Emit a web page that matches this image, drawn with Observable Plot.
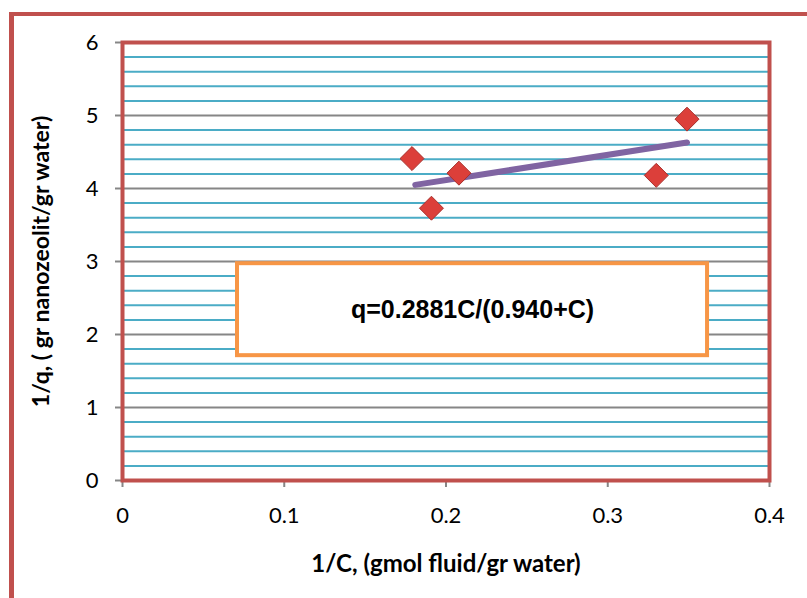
<!DOCTYPE html>
<html>
<head>
<meta charset="utf-8">
<script src="https://cdn.jsdelivr.net/npm/d3@7"></script>
<script src="https://cdn.jsdelivr.net/npm/@observablehq/plot@0.6"></script>
<style>
  html, body { margin: 0; padding: 0; background: #fff; overflow: hidden; }
  #wrap { position: relative; width: 807px; height: 598px; }
  #outer { position: absolute; left: 9px; top: 12px; width: 820px; height: 600px;
           border-left: 5px solid #c0504d; border-top: 4px solid #c0504d; pointer-events: none; }
</style>
</head>
<body>
<div id="wrap"><div id="outer"></div></div>
<script>
// Data
const invC = [0.179, 0.191, 0.208, 0.330, 0.349];
const invQ = [4.41, 3.73, 4.21, 4.18, 4.95];
const fitX = [0.181, 0.349];
const fitY = [4.05, 4.63];
const xTicks = [0, 0.1, 0.2, 0.3, 0.4];
const xTickLabels = ["0", "0.1", "0.2", "0.3", "0.4"];
const yTicks = [0, 1, 2, 3, 4, 5, 6];
const yTickLabels = ["0", "1", "2", "3", "4", "5", "6"];
const yMinor = [0.2, 0.4, 0.6, 0.8, 1.2, 1.4, 1.6, 1.8, 2.2, 2.4, 2.6, 2.8,
                3.2, 3.4, 3.6, 3.8, 4.2, 4.4, 4.6, 4.8, 5.2, 5.4, 5.6, 5.8];
const boxX = [0.0711, 0.3617];
const boxY = [1.71, 2.97];
const equation = "q=0.2881C/(0.940+C)";
const xTitle = "1/C, (gmol fluid/gr water)";
const yTitle = "1/q, ( gr nanozeolit/gr water)";

const points = invC.map((c, i) => ({x: c, y: invQ[i]}));
const fit = fitX.map((x, i) => ({x, y: fitY[i]}));
const box = [{x1: boxX[0], x2: boxX[1], y1: boxY[0], y2: boxY[1], label: equation}];

const chart = Plot.plot({
  width: 807,
  height: 598,
  marginLeft: 122,
  marginRight: 38,
  marginTop: 42,
  marginBottom: 118,
  style: {fontFamily: "Lato, 'Liberation Sans', sans-serif", background: "transparent"},
  x: {domain: [0, 0.4]},
  y: {domain: [0, 6]},
  marks: [
    Plot.ruleY(yMinor, {stroke: "#4bacc6", strokeWidth: 2}),
    Plot.ruleY(yTicks, {stroke: "#868686", strokeWidth: 2}),
    Plot.axisY({ticks: yTicks, tickFormat: (d, i) => yTickLabels[i], tickSize: 7, tickPadding: 17,
                stroke: "#868686", strokeWidth: 2, fontSize: 22, fill: "#000", label: null}),
    Plot.axisX({ticks: xTicks, tickFormat: (d, i) => xTickLabels[i], tickSize: 7, tickPadding: 20,
                stroke: "#868686", strokeWidth: 2, fontSize: 22, fill: "#000", label: null}),
    Plot.frame({stroke: "#c0504d", strokeWidth: 4}),
    Plot.rect(box, {x1: "x1", x2: "x2", y1: "y1", y2: "y2", fill: "white", stroke: "#f79646", strokeWidth: 4}),
    Plot.text(box, {x: d => (d.x1 + d.x2) / 2, y: d => (d.y1 + d.y2) / 2, text: "label",
                    fontSize: 25, fontWeight: "bold", fontFamily: "'Liberation Sans', Arial, sans-serif", fill: "#000"}),
    Plot.line(fit, {x: "x", y: "y", stroke: "#8064a2", strokeWidth: 6}),
    Plot.dot(points, {x: "x", y: "y", symbol: "diamond2", r: 10.8, fill: "#dc3f3a", stroke: "#a8302c", strokeWidth: 1}),
    Plot.text([xTitle], {frameAnchor: "bottom", textAnchor: "middle", lineAnchor: "middle", dx: 0, dy: 84,
                         fontSize: 24, fontWeight: "bold", fill: "#000"}),
    Plot.text([yTitle], {frameAnchor: "left", textAnchor: "middle", lineAnchor: "middle", dx: -81, rotate: -90,
                         fontSize: 23, fontWeight: "bold", fill: "#000"})
  ]
});
chart.style.position = "absolute";
chart.style.left = "0px";
chart.style.top = "0px";
document.getElementById("wrap").insertBefore(chart, document.getElementById("outer"));
</script>
</body>
</html>
